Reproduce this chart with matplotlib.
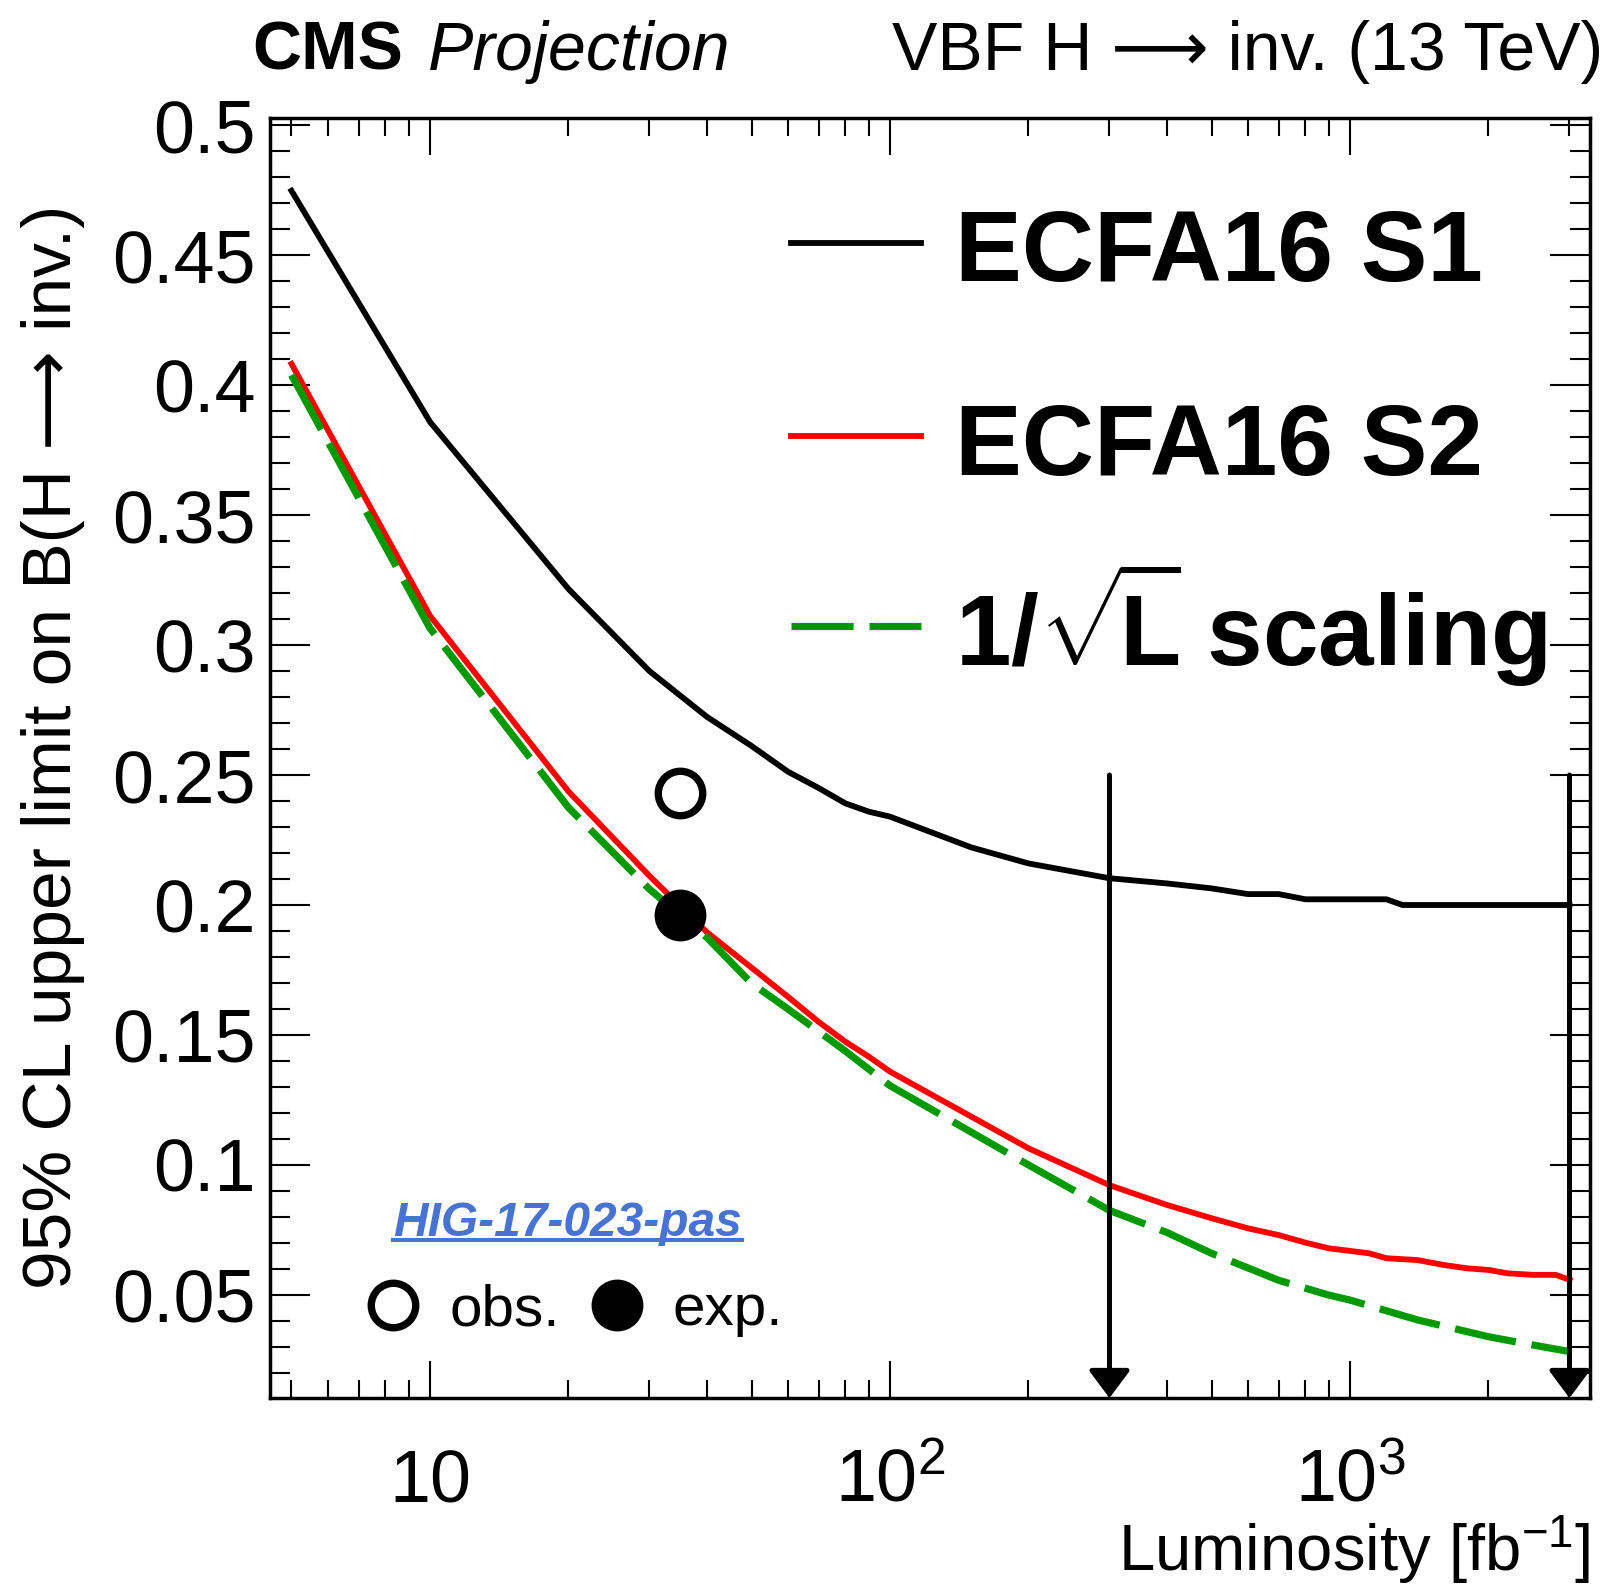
import numpy as np
import matplotlib
matplotlib.use('Agg')
import matplotlib.pyplot as plt
from matplotlib.ticker import MultipleLocator, NullFormatter, FixedLocator
from matplotlib.lines import Line2D

plt.rcParams['font.family'] = ['Liberation Sans', 'DejaVu Sans']
plt.rcParams['mathtext.fontset'] = 'custom'
plt.rcParams['mathtext.rm'] = 'Liberation Sans'
plt.rcParams['mathtext.it'] = 'Liberation Sans:italic'
plt.rcParams['mathtext.bf'] = 'Liberation Sans:bold'

# ---- data ----
lumi_s1 = [5, 10, 20, 30, 40, 50, 60, 70, 80, 90, 100, 150, 200, 300, 400, 500,
           600, 700, 800, 1200, 1300, 3000]
lim_s1 = [0.4748, 0.3859, 0.3216, 0.2900, 0.2724, 0.2612, 0.2513, 0.2450, 0.2391,
          0.2359, 0.2340, 0.2222, 0.2160, 0.2103, 0.2083, 0.2064, 0.2042, 0.2042,
          0.2022, 0.2022, 0.2000, 0.2000]

lumi_s2 = [5, 10, 20, 30, 40, 50, 60, 70, 80, 90, 100, 200, 300, 400, 500, 600,
           700, 800, 900, 1100, 1200, 1400, 1600, 1800, 2000, 2200, 2500, 2800, 3000]
lim_s2 = [0.4082, 0.3113, 0.2437, 0.2112, 0.1895, 0.1759, 0.1647, 0.1550, 0.1474,
          0.1416, 0.1359, 0.1064, 0.0922, 0.0846, 0.0795, 0.0756, 0.0730, 0.0701,
          0.0679, 0.0660, 0.0641, 0.0634, 0.0615, 0.0602, 0.0596, 0.0583, 0.0577,
          0.0577, 0.0558]

lumi_sc = [5, 10, 20, 30, 40, 50, 60, 80, 100, 200, 300, 400, 500, 700, 900, 1000,
           1400, 2000, 2500, 3000]
lim_sc = [0.4039, 0.3065, 0.2375, 0.2061, 0.1875, 0.1699, 0.1600, 0.1438, 0.1305,
          0.1000, 0.0825, 0.0740, 0.0660, 0.0556, 0.0499, 0.0480, 0.0404, 0.0339,
          0.0307, 0.0282]

lumi_2016 = [35.0]
obs_2016 = [0.243]
exp_2016 = [0.196]

arrow_lumi = [300, 3000]
arrow_top = 0.25

labels = ['ECFA16 S1', 'ECFA16 S2', r'$\mathbf{1/\sqrt{\!L\!}}$ scaling']
yticks = [0.05, 0.1, 0.15, 0.2, 0.25, 0.3, 0.35, 0.4, 0.45, 0.5]
ytick_labels = ['0.05', '0.1', '0.15', '0.2', '0.25', '0.3', '0.35', '0.4', '0.45', '0.5']
xticks = [10, 100, 1000]
xtick_labels = [r'$\mathregular{10}$', r'$\mathregular{10^{2}}$', r'$\mathregular{10^{3}}$']

xmin, xmax = 4.49, 3325
ymin, ymax = 0.0103, 0.5028

fig = plt.figure(figsize=(16.1, 15.86), dpi=100)
ax = fig.add_axes([0.1677, 0.1185, 0.8199, 0.8071])

l1, = ax.plot(lumi_s1, lim_s1, color='black', lw=4.2)
l2, = ax.plot(lumi_s2, lim_s2, color='#ff0000', lw=4.2)
l3, = ax.plot(lumi_sc, lim_sc, color='#009900', lw=5.2, linestyle=(0, (8.6, 2.2)))

p_obs, = ax.plot(lumi_2016, obs_2016, 'o', ms=32, mfc='white', mec='black', mew=5.3,
                 linestyle='none', zorder=5)
p_exp, = ax.plot(lumi_2016, exp_2016, 'o', ms=32, mfc='black', mec='black', mew=5.3,
                 linestyle='none', zorder=5)

for xa in arrow_lumi:
    ax.annotate('', xy=(xa, ymin), xytext=(xa, arrow_top),
                arrowprops=dict(arrowstyle='-|>,head_length=0.47,head_width=0.35',
                                lw=3.6, color='black', shrinkA=0, shrinkB=0,
                                mutation_scale=36), zorder=6)

ax.set_xscale('log')
ax.set_xlim(xmin, xmax)
ax.set_ylim(ymin, ymax)

for s in ax.spines.values():
    s.set_linewidth(2.5)

ax.tick_params(which='both', direction='in', top=True, right=True, width=1.5)
ax.tick_params(axis='y', which='major', length=28.8, labelsize=53, pad=10)
ax.tick_params(axis='y', which='minor', length=14.4)
ax.tick_params(axis='x', which='major', length=26.6, labelsize=53, pad=74.7)
ax.tick_params(axis='x', which='minor', length=13)

ax.xaxis.set_major_locator(FixedLocator(xticks))
ax.set_xticklabels(xtick_labels, va='baseline')
ax.xaxis.set_minor_formatter(NullFormatter())
ax.set_yticks(yticks)
ax.set_yticklabels(ytick_labels)
ax.yaxis.set_minor_locator(MultipleLocator(0.01))

ax.set_xlabel(r'Luminosity [fb$^{\mathregular{-1}}$]', fontsize=47, loc='right', va='baseline')
ax.xaxis.set_label_coords(1.0, -0.1352)
ax.set_ylabel('95% CL upper limit on B(H \u27f6 inv.)', fontsize=50, va='baseline')
ax.yaxis.set_label_coords(-0.1508, 0.5086)

leg_a = ax.legend([l1, l2], labels[:2], loc='upper left', bbox_to_anchor=(0.3947, 0.933),
                  frameon=False, prop={'size': 72, 'weight': 'bold'}, handlelength=1.3,
                  handleheight=0.95, handletextpad=0.34, labelspacing=0.95,
                  borderpad=0, borderaxespad=0)
ax.add_artist(leg_a)
leg_b = ax.legend([l3], labels[2:], loc='lower left', bbox_to_anchor=(0.3947, 0.5547),
                  frameon=False, prop={'size': 72, 'weight': 'bold'}, handlelength=1.3,
                  handleheight=0.95, handletextpad=0.34, borderpad=0, borderaxespad=0)
ax.add_artist(leg_b)
leg_c = ax.legend([p_obs, p_exp], ['obs.', 'exp.'], loc='lower left',
                  bbox_to_anchor=(0.0711, 0.0477), ncol=2, frameon=False,
                  prop={'size': 42}, handlelength=1.0, handletextpad=0.46,
                  columnspacing=0.48, borderpad=0, borderaxespad=0, numpoints=1)

hig_pos = (0.0932, (1398 - 1236) / 1280.0)
hig = ax.text(hig_pos[0], hig_pos[1], 'HIG-17-023-pas', transform=ax.transAxes,
              fontsize=34.5, fontweight='bold', fontstyle='italic', color='#4673d4',
              va='baseline', ha='left')

fig.text(0.1565, 0.9559, 'CMS', fontsize=49, fontweight='bold', va='baseline')
fig.text(0.2660, 0.9559, 'Projection', fontsize=49, fontstyle='italic', va='baseline')
fig.text(0.9955, 0.9559, 'VBF H \u27f6 inv. (13 TeV)', fontsize=49,
         va='baseline', ha='right')

# underline for the link text
fig.canvas.draw()
bb = hig.get_window_extent()
base = ax.transAxes.transform(hig_pos)
y_ul = base[1] - 4
inv = fig.transFigure.inverted()
(x0f, yf), (x1f, _) = inv.transform([(bb.x0, y_ul), (bb.x1, y_ul)])
fig.add_artist(Line2D([x0f, x1f], [yf, yf], color='#4673d4', lw=2.9))

fig.savefig('out.png', dpi=100)
plt.close()
